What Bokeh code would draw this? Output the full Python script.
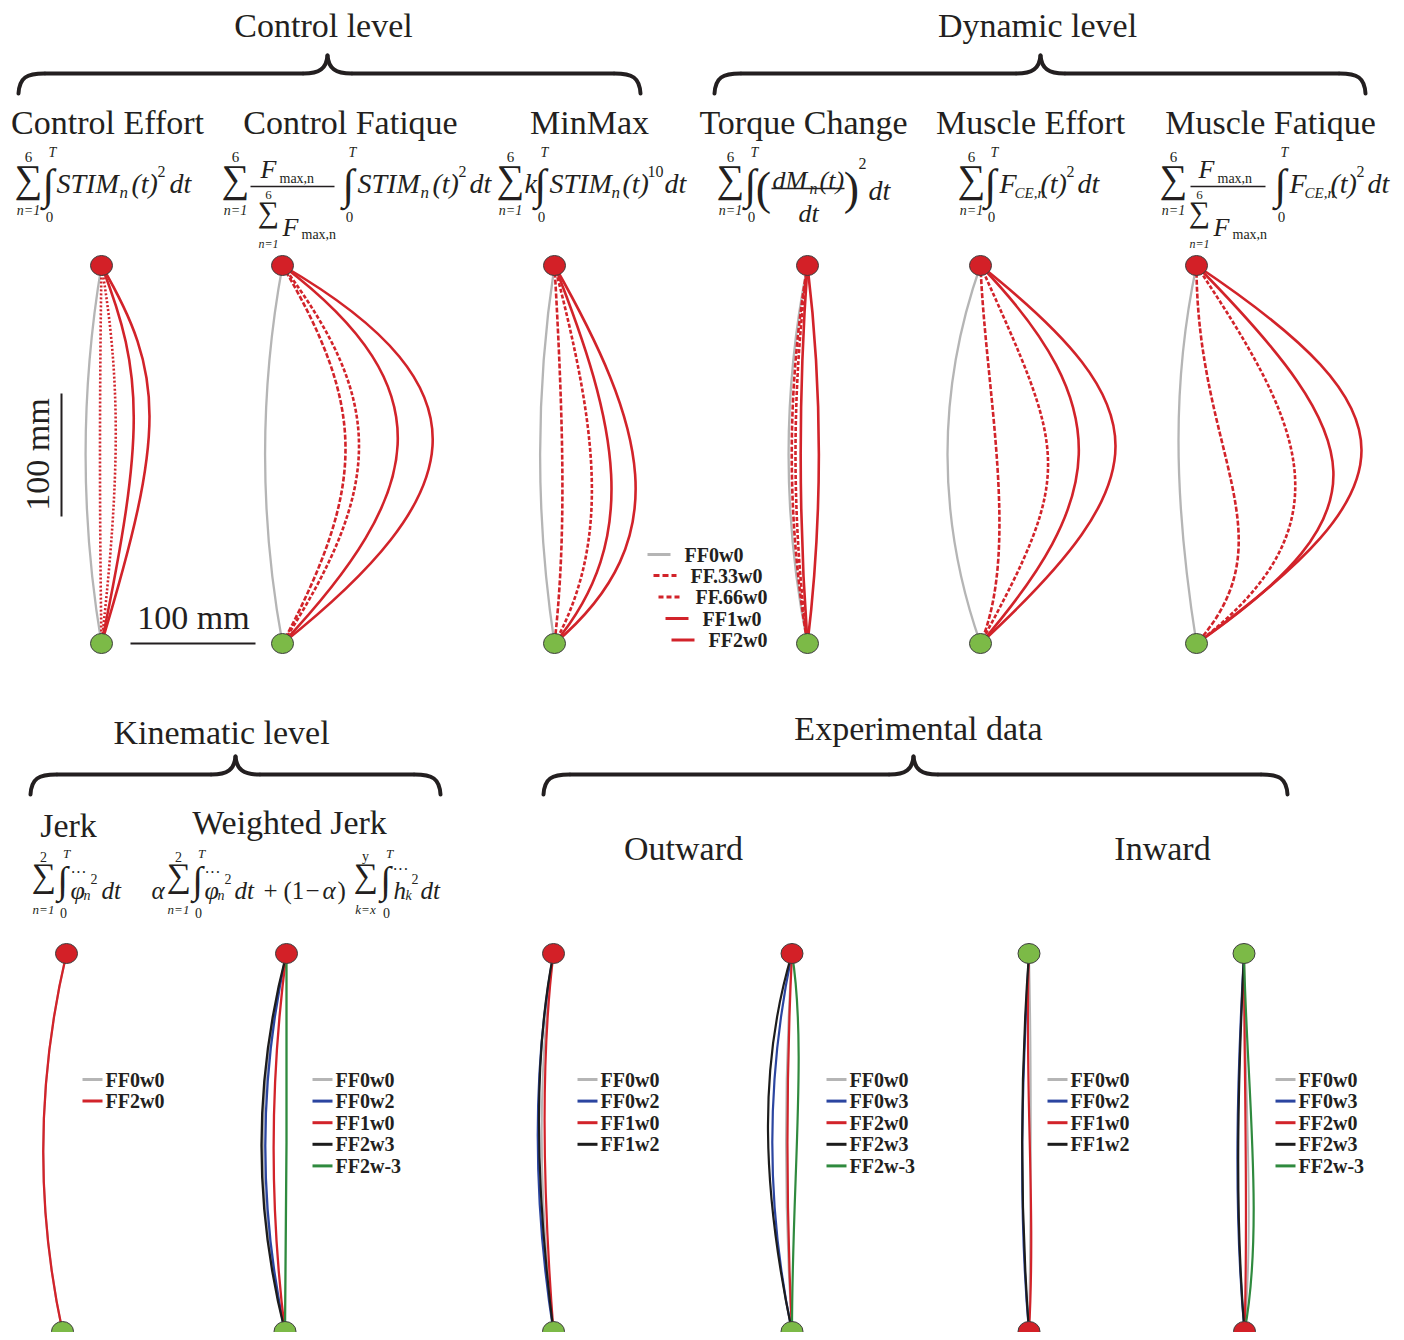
import math
from bokeh.plotting import figure
from bokeh.models import ColumnDataSource, Range1d
from bokeh.core.properties import value
from bokeh.embed import file_html
from bokeh.resources import INLINE

# ---------------- data ----------------
# Each trajectory is a cubic Bezier between the two targets:
# [lateral offset of 1st control point, its fraction along the path,
#  lateral offset of 2nd control point, its fraction along the path]  (offsets in figure px, 100 mm ~ 123 px)
top_series = ["FF0w0", "FF.33w0", "FF.66w0", "FF1w0", "FF2w0"]
control_effort = [[-21, .33, -21, .67], [-2, .33, -2, .67], [19, .30, 19, .55], [43, .29, 43, .45], [64, .29, 64, .44]]
control_fatique = [[-23, .33, -23, .67], [84, .38, 84, .58], [102, .36, 102, .58], [165, .33, 142, .60], [215, .33, 185, .61]]
minmax = [[-19, .33, -19, .67], [9, .42, 12, .72], [41, .42, 58, .72], [63, .42, 88, .72], [90, .42, 125, .72]]
torque_change = [[-25, .33, -25, .67], [-21, .33, -21, .67], [-16, .33, -16, .67], [-9, .33, -9, .67], [15, .33, 15, .67]]
muscle_effort = [[-44, .33, -44, .67], [5, .33, 40, .75], [85, .50, 95, .54], [138, .38, 124, .62], [180, .38, 180, .56]]
muscle_fatique = [[-24, .30, -24, .60], [0, .50, 95, .72], [100, .40, 160, .68], [175, .47, 190, .65], [220, .39, 220, .58]]

jerk_series = ["FF0w0", "FF2w0"]
jerk = [[-28, .33, -28, .67], [-28, .33, -28, .67]]
wjerk_series = ["FF0w0", "FF0w2", "FF1w0", "FF2w3", "FF2w-3"]
weighted_jerk = [[-30, .33, -30, .67], [-27, .33, -27, .67], [-16, .33, -16, .67], [-32, .33, -32, .67], [1, .33, 1, .67]]
out1_series = ["FF0w0", "FF0w2", "FF1w0", "FF1w2"]
outward_1 = [[-16, .30, -16, .62], [-21, .30, -21, .65], [-13, .28, -11, .62], [-21, .28, -18, .62]]
out2_series = ["FF0w0", "FF0w3", "FF2w0", "FF2w3", "FF2w-3"]
outward_2 = [[-8, .33, -8, .67], [-26, .33, -26, .67], [-6, .33, -6, .67], [-34, .30, -30, .62], [15, .25, 0, .60]]
in1_series = ["FF0w0", "FF0w2", "FF1w0", "FF1w2"]
inward_1 = [[3, .33, 2, .67], [-7, .33, -11, .67], [-5, .33, 7, .67], [-9, .33, -9, .67]]
in2_series = ["FF0w0", "FF0w3", "FF2w0", "FF2w3", "FF2w-3"]
inward_2 = [[0, .33, 10, .70], [-7, .33, -11, .67], [0, .33, 4, .70], [-6, .33, -10, .67], [2, .33, 20, .72]]

# ---------------- styles ----------------
RED = "#d2232a"
GREY = "#b5b5b5"
BLUE = "#2b45a0"
BLACK = "#1c1c1c"
GREEN = "#2f8a3e"
FILL_RED = "#d32027"
FILL_GREEN = "#7cba47"
INK = "#231f20"
FONT = value("Liberation Serif")

STYLE = {
    "FF0w0": (GREY, "solid"), "FF.33w0": (RED, "5 2"), "FF.66w0": (RED, "4 2"),
    "FF1w0": (RED, "solid"), "FF2w0": (RED, "solid"),
    "FF0w2": (BLUE, "solid"), "FF0w3": (BLUE, "solid"),
    "FF1w2": (BLACK, "solid"), "FF2w3": (BLACK, "solid"), "FF2w-3": (GREEN, "solid"),
}

W, H = 1396, 1332
p = figure(width=W, height=H, x_range=Range1d(0, W), y_range=Range1d(H, 0),
           output_backend="svg", toolbar_location=None, x_axis_type=None, y_axis_type=None,
           min_border=0)
p.outline_line_color = None
p.grid.visible = False

texts = dict(x=[], y=[], text=[], size=[], style=[], align=[], baseline=[], angle=[], color=[])


def T(s, x, y, size, style="normal", align="left", baseline="alphabetic", angle=0.0, color=INK):
    texts["x"].append(x); texts["y"].append(y); texts["text"].append(s)
    texts["size"].append(f"{size}px"); texts["style"].append(style); texts["align"].append(align)
    texts["baseline"].append(baseline); texts["angle"].append(angle); texts["color"].append(color)


def panel(params, series, xt, yt, xb, yb, ctop, cbot, lw, dash_override=None):
    order = sorted(range(len(series)), key=lambda i: 0 if series[i] == "FF0w0" else (1 if "." in series[i] else 2))
    for i in order:
        a, pa, b, pb = params[i]
        col, dash = STYLE[series[i]]
        if dash_override and series[i] in dash_override:
            dash = dash_override[series[i]]
        w = lw - 0.3 if series[i] == "FF0w0" else lw
        p.bezier(x0=[xt], y0=[yt], x1=[xb], y1=[yb],
                 cx0=[xt + (xb - xt) * pa + a], cy0=[yt + (yb - yt) * pa],
                 cx1=[xt + (xb - xt) * pb + b], cy1=[yt + (yb - yt) * pb],
                 line_color=col, line_width=w, line_dash=dash)
    p.ellipse(x=[xt, xb], y=[yt, yb], width=22, height=20, fill_color=[ctop, cbot],
              line_color="#3d3d3d", line_width=1)


L_TOP = (265, 643)
L_BOT = (953, 1331)
panel(control_effort, top_series, 101, L_TOP[0], 101, L_TOP[1], FILL_RED, FILL_GREEN, 2.6,
      {"FF.33w0": "2 2", "FF.66w0": "2 2"})
panel(control_fatique, top_series, 282, L_TOP[0], 282, L_TOP[1], FILL_RED, FILL_GREEN, 2.6)
panel(minmax, top_series, 554, L_TOP[0], 554, L_TOP[1], FILL_RED, FILL_GREEN, 2.6)
panel(torque_change, top_series, 807, L_TOP[0], 807, L_TOP[1], FILL_RED, FILL_GREEN, 2.6)
panel(muscle_effort, top_series, 980, L_TOP[0], 980, L_TOP[1], FILL_RED, FILL_GREEN, 2.6)
panel(muscle_fatique, top_series, 1196, L_TOP[0], 1196, L_TOP[1], FILL_RED, FILL_GREEN, 2.6)

panel(jerk, jerk_series, 66, L_BOT[0], 62, L_BOT[1], FILL_RED, FILL_GREEN, 2.3)
panel(weighted_jerk, wjerk_series, 286, L_BOT[0], 284.5, L_BOT[1], FILL_RED, FILL_GREEN, 2.3)
panel(outward_1, out1_series, 553, L_BOT[0], 553, L_BOT[1], FILL_RED, FILL_GREEN, 2.2)
panel(outward_2, out2_series, 791.5, L_BOT[0], 791.5, L_BOT[1], FILL_RED, FILL_GREEN, 2.2)
panel(inward_1, in1_series, 1028.5, L_BOT[0], 1028.5, L_BOT[1], FILL_GREEN, FILL_RED, 2.2)
panel(inward_2, in2_series, 1243.5, L_BOT[0], 1244, L_BOT[1], FILL_GREEN, FILL_RED, 2.2)

# ---------------- legends ----------------
top_leg_y = [554, 575, 596.5, 618, 639.5]
top_leg_x = [647, 653, 658, 665, 671]
for i, name in enumerate(top_series):
    col, dash = STYLE[name]
    ldash = {"FF.33w0": "6 3", "FF.66w0": "5 3"}.get(name, "solid")
    p.segment(x0=[top_leg_x[i]], y0=[top_leg_y[i]], x1=[top_leg_x[i] + 23], y1=[top_leg_y[i]],
              line_color=col, line_width=3, line_dash=ldash)
    T(name, top_leg_x[i] + 37, top_leg_y[i], 20, "bold", "left", "middle")

for series, lx, y0 in [(jerk_series, 82, 1079), (wjerk_series, 312, 1079), (out1_series, 577, 1079),
                       (out2_series, 826, 1079), (in1_series, 1047, 1079), (in2_series, 1275, 1079)]:
    for i, name in enumerate(series):
        y = y0 + i * 21.6
        p.segment(x0=[lx], y0=[y], x1=[lx + 20], y1=[y], line_color=STYLE[name][0], line_width=3)
        T(name, lx + 23, y, 20, "bold", "left", "middle")

# ---------------- braces ----------------
def brace(xl, xr, xm, y_end, y_bar, y_tip):
    bx0, by0, bx1, by1, c0x, c0y, c1x, c1y = [], [], [], [], [], [], [], []
    for s in (1, -1):
        xe = xl if s == 1 else xr
        bx0.append(xe); by0.append(y_end); bx1.append(xe + s * 26); by1.append(y_bar)
        c0x.append(xe + s * 1); c0y.append(y_bar + 4); c1x.append(xe + s * 8); c1y.append(y_bar)
        bx0.append(xm - s * 24); by0.append(y_bar); bx1.append(xm); by1.append(y_tip)
        c0x.append(xm - s * 8); c0y.append(y_bar); c1x.append(xm - s * 1); c1y.append(y_bar - 5)
    p.bezier(x0=bx0, y0=by0, x1=bx1, y1=by1, cx0=c0x, cy0=c0y, cx1=c1x, cy1=c1y,
             line_color=INK, line_width=4, line_cap="round")
    p.segment(x0=[xl + 26, xm + 24], y0=[y_bar, y_bar], x1=[xm - 24, xr - 26], y1=[y_bar, y_bar],
              line_color=INK, line_width=4)


brace(18, 640, 327, 93, 73, 55)
brace(714, 1365, 1040, 93, 73, 55)
brace(30, 440, 235, 794, 774, 756)
brace(543, 1287, 913, 794, 774, 756)

# ---------------- scale bars ----------------
p.segment(x0=[130, 61], y0=[643, 393], x1=[255, 61], y1=[643, 516], line_color=INK, line_width=2)
T("100 mm", 193, 617, 34, "normal", "center", "middle")
T("100 mm", 37, 454, 34, "normal", "center", "middle", math.pi / 2)

# ---------------- headings ----------------
for s, x, y in [("Control level", 323, 25), ("Dynamic level", 1037, 25),
                ("Control Effort", 107, 122), ("Control Fatique", 350, 122), ("MinMax", 589, 122),
                ("Torque Change", 803, 122), ("Muscle Effort", 1030, 122), ("Muscle Fatique", 1270, 122),
                ("Kinematic level", 221, 732), ("Experimental data", 918, 728),
                ("Jerk", 68, 825), ("Weighted Jerk", 289, 822), ("Outward", 683, 848), ("Inward", 1162, 848)]:
    T(s, x, y, 34, "normal", "center", "middle")

# ---------------- formulas ----------------
def sum_block(x, top, bot, ytop=156, ymid=178, ybot=210, big=39, small=15):
    T("\u2211", x, ymid, big, "normal", "center", "middle")
    T(top, x, ytop, small, "normal", "center", "middle")
    T(bot, x, ybot, small - 1, "italic", "center", "middle")


def int_block(x, ymid=184, ytop=152, ybot=216, big=43, small=15):
    T("\u222b", x, ymid, big, "normal", "center", "middle")
    T("T", x + 4, ytop, small - 1, "italic", "center", "middle")
    T("0", x + 1, ybot, small, "normal", "center", "middle")


# Control Effort
sum_block(28, "6", "n=1")
int_block(48)
T("STIM", 56, 183, 28, "italic"); T("n", 119, 192, 17, "italic"); T("(t)", 131, 183, 28, "italic")
T("2", 157, 171, 16); T("dt", 169, 183, 28, "italic")
# Control Fatique
sum_block(235, "6", "n=1")
T("F", 260, 169, 26, "italic"); T("max,n", 279, 178, 14)
p.segment(x0=[250, 1190], y0=[186, 186], x1=[334, 1265], y1=[186, 186], line_color=INK, line_width=1.3)
sum_block(268, "6", "n=1", ytop=194, ymid=211, ybot=243, big=30, small=13)
T("F", 282, 227, 26, "italic"); T("max,n", 301, 234, 14)
int_block(348)
T("STIM", 357, 183, 28, "italic"); T("n", 420, 192, 17, "italic"); T("(t)", 432, 183, 28, "italic")
T("2", 458, 171, 16); T("dt", 469, 183, 28, "italic")
# MinMax
sum_block(510, "6", "n=1")
T("k", 524, 183, 28, "italic")
int_block(540)
T("STIM", 549, 183, 28, "italic"); T("n", 611, 192, 17, "italic"); T("(t)", 622, 183, 28, "italic")
T("10", 647, 171, 16); T("dt", 664, 183, 28, "italic")
# Torque Change
sum_block(730, "6", "n=1")
int_block(750)
T("(", 763, 188, 46, "normal", "center", "middle")
T("dM", 772, 180, 26, "italic"); T("n", 809, 188, 16, "italic"); T("(t)", 819, 180, 26, "italic")
p.segment(x0=[771], y0=[188], x1=[844], y1=[188], line_color=INK, line_width=1.3)
T("dt", 808, 213, 26, "italic", "center")
T(")", 851, 188, 46, "normal", "center", "middle")
T("2", 858, 163, 16); T("dt", 868, 190, 28, "italic")
# Muscle Effort
sum_block(971, "6", "n=1")
int_block(990)
T("F", 999, 183, 28, "italic"); T("CE,n", 1014, 192, 15, "italic"); T("(t)", 1040, 183, 28, "italic")
T("2", 1066, 171, 16); T("dt", 1077, 183, 28, "italic")
# Muscle Fatique
sum_block(1173, "6", "n=1")
T("F", 1198, 169, 26, "italic"); T("max,n", 1217, 178, 14)
sum_block(1199, "6", "n=1", ytop=194, ymid=211, ybot=243, big=30, small=13)
T("F", 1213, 227, 26, "italic"); T("max,n", 1232, 234, 14)
int_block(1280)
T("F", 1289, 183, 28, "italic"); T("CE,n", 1304, 192, 15, "italic"); T("(t)", 1330, 183, 28, "italic")
T("2", 1356, 171, 16); T("dt", 1367, 183, 28, "italic")

# Jerk
kin = dict(ytop=856, ymid=875, ybot=909, big=34, small=14)
kint = dict(ymid=879, ytop=853, ybot=912, big=38, small=14)
sum_block(43, "2", "n=1", **kin)
int_block(62, **kint)
T("\u03c6", 70, 890, 26, "italic"); T("\u00b7\u00b7\u00b7", 78, 872, 16, "normal", "center")
T("n", 83, 895, 14, "italic"); T("2", 90, 878, 14); T("dt", 101, 890, 25, "italic")
# Weighted Jerk
T("\u03b1", 151, 890, 25, "italic")
sum_block(178, "2", "n=1", **kin)
int_block(197, **kint)
T("\u03c6", 204, 890, 26, "italic"); T("\u00b7\u00b7\u00b7", 212, 872, 16, "normal", "center")
T("n", 217, 895, 14, "italic"); T("2", 224, 878, 14); T("dt", 234, 890, 25, "italic")
T("+", 263, 890, 25); T("(1", 283, 890, 25); T("\u2212", 305, 890, 25); T("\u03b1", 322, 890, 25, "italic")
T(")", 337, 890, 25)
sum_block(365, "y", "k=x", **kin)
int_block(385, **kint)
T("h", 393, 890, 25, "italic"); T("\u00b7\u00b7\u00b7", 400, 869, 16, "normal", "center")
T("k", 405, 895, 14, "italic"); T("2", 411, 878, 14); T("dt", 420, 890, 25, "italic")

src = ColumnDataSource(texts)
p.text(x="x", y="y", text="text", text_font_size="size", text_font_style="style", text_align="align",
       text_baseline="baseline", angle="angle", text_color="color", text_font=FONT, source=src)

open("out.html", "w").write(file_html(p, INLINE))
